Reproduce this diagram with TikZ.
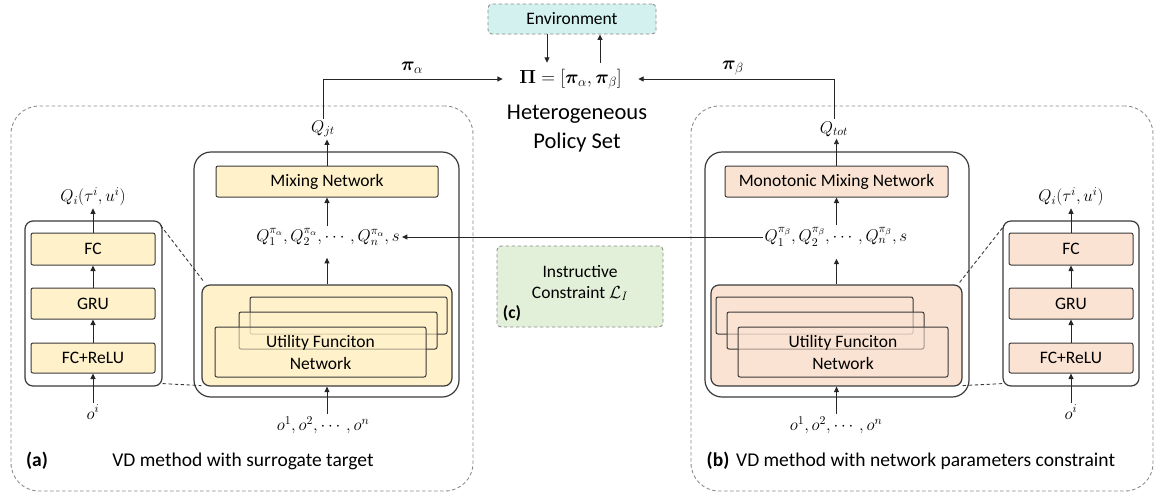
\RequirePackage{fix-cm}
\documentclass[tikz,border=0pt]{standalone}
\usepackage{amsmath}
\usepackage{bm}
\usepackage[no-math]{fontspec}
\setmainfont{Carlito}
\usetikzlibrary{arrows.meta}

\definecolor{boxyellow}{HTML}{FFF1C9}
\definecolor{boxpeach}{HTML}{FBE3D3}
\definecolor{boxgreen}{HTML}{E2F0D9}
\definecolor{boxcyan}{HTML}{D3F1EF}
\definecolor{edge}{HTML}{3A3A3A}
\definecolor{dashgray}{HTML}{8C8C8C}

\tikzset{
  arr/.style={-{Triangle[length=5.5pt,width=5pt]}, line width=0.9pt, draw=black!85},
  panel/.style={draw=dashgray, line width=0.9pt, dash pattern=on 3.5pt off 2.5pt,
    rounded corners=28pt, inner sep=0pt},
  container/.style={draw=edge, line width=1.2pt, rounded corners=17pt, inner sep=0pt},
  layer/.style={draw=edge, line width=1pt, rounded corners=2pt, inner sep=0pt,
    font=\fontsize{17.5}{20}\selectfont},
  holder/.style={draw=edge, line width=1.2pt, rounded corners=8pt, inner sep=0pt},
  stackbox/.style={draw=edge, line width=1pt, rounded corners=2pt, inner sep=0pt,
    fill opacity=0.55, text opacity=1, align=center,
    font=\fontsize{17.5}{22}\selectfont},
  note/.style={draw=dashgray, line width=0.9pt, dash pattern=on 3.5pt off 2.5pt,
    rounded corners=4pt, inner sep=0pt},
  mathlbl/.style={inner sep=2pt, font=\fontsize{17}{20}\selectfont},
  caption/.style={inner sep=0pt, font=\fontsize{19.5}{23}\selectfont},
  zoomline/.style={draw=edge, line width=0.9pt, dash pattern=on 3.5pt off 2.5pt},
}

\begin{document}
\begin{tikzpicture}[x=1pt,y=-1pt]
\useasboundingbox (0,0) rectangle (1156,496);

% ---------- top: environment and policy set ----------
\node[note, fill=boxcyan, minimum width=168pt, minimum height=30pt,
  font=\fontsize{17.5}{20}\selectfont] (env) at (572,19) {Environment};
\node[inner sep=0pt, minimum width=135pt, minimum height=32pt,
  font=\fontsize{19}{22}\selectfont] (pi) at (570.5,79)
  {$\bm{\Pi}=[\bm{\pi}_\alpha,\bm{\pi}_\beta]$};
\node[inner sep=0pt, font=\fontsize{19}{22}\selectfont] (piA) at (412,68) {$\bm{\pi}_\alpha$};
\node[inner sep=0pt, font=\fontsize{19}{22}\selectfont] (piB) at (733,68) {$\bm{\pi}_\beta$};
\node[inner sep=0pt, align=center, font=\fontsize{22.5}{29}\selectfont] (het) at (577,128.5)
  {Heterogeneous\\Policy Set};

\coordinate (xdn) at (547,0);
\coordinate (xup) at (600,0);
\draw[arr] (env.south -| xdn) -- (pi.north -| xdn);
\draw[arr] (pi.north -| xup) -- (env.south -| xup);

% ---------- panel (a) ----------
\node[panel, minimum width=462pt, minimum height=385pt] (panelA) at (242,298.5) {};
\node[container, minimum width=265pt, minimum height=245pt] (contA) at (326.5,274.5) {};
\node[layer, fill=boxyellow, minimum width=222pt, minimum height=31pt] (mixA) at (327,181.5) {Mixing Network};
\node[mathlbl] (qjt) at (323,129) {$Q_{jt}$};
\node[mathlbl] (qA) at (328,237) {$Q_1^{\pi_\alpha},Q_2^{\pi_\alpha},\cdots,Q_n^{\pi_\alpha},s$};
\node[holder, fill=boxyellow, minimum width=250pt, minimum height=101pt] (utilA) at (327,335.5) {};
\node[stackbox, fill=boxyellow, minimum width=197pt, minimum height=37pt] (sA3) at (348.5,315.5) {};
\node[stackbox, fill=boxyellow, minimum width=198pt, minimum height=37pt] (sA2) at (338,330.5) {};
\node[stackbox, fill=boxyellow, minimum width=211pt, minimum height=50pt] (sA1) at (320.5,352) {Utility Funciton\\Network};
\node[mathlbl] (oA) at (323,425) {$o^1,o^2,\cdots,o^n$};

\node[holder, fill=white, minimum width=137pt, minimum height=165pt] (sbA) at (93.5,303.5) {};
\node[layer, fill=boxyellow, minimum width=124pt, minimum height=32pt] (fcA) at (93,249) {FC};
\node[layer, fill=boxyellow, minimum width=124pt, minimum height=31pt] (gruA) at (93,303.5) {GRU};
\node[layer, fill=boxyellow, minimum width=124pt, minimum height=30pt] (reluA) at (93,358) {FC+ReLU};
\node[mathlbl] (qiA) at (93,197) {$Q_i(\tau^i,u^i)$};
\node[mathlbl] (oiA) at (93,412) {$o^i$};

\node[caption, font=\fontsize{19.5}{23}\selectfont\bfseries] (tagA) at (37,461) {(a)};
\node[caption] (capA) at (243,461) {VD method with surrogate target};

% ---------- panel (b) ----------
\node[panel, minimum width=462pt, minimum height=385pt] (panelB) at (922,298.5) {};
\node[container, minimum width=264pt, minimum height=245pt] (contB) at (837,274.5) {};
\node[layer, fill=boxpeach, minimum width=223pt, minimum height=31pt] (monoB) at (836.5,181.5) {Monotonic Mixing Network};
\node[mathlbl] (qtot) at (834,129) {$Q_{tot}$};
\node[mathlbl] (qB) at (836,237) {$Q_1^{\pi_\beta},Q_2^{\pi_\beta},\cdots,Q_n^{\pi_\beta},s$};
\node[holder, fill=boxpeach, minimum width=251pt, minimum height=101pt] (utilB) at (836.5,335.5) {};
\node[stackbox, fill=boxpeach, minimum width=197pt, minimum height=37pt] (sB3) at (814.5,315.5) {};
\node[stackbox, fill=boxpeach, minimum width=197pt, minimum height=37pt] (sB2) at (825.5,330.5) {};
\node[stackbox, fill=boxpeach, minimum width=210pt, minimum height=50pt] (sB1) at (843,352) {Utility Funciton\\Network};
\node[mathlbl] (oB) at (836,425) {$o^1,o^2,\cdots,o^n$};

\node[holder, fill=white, minimum width=136pt, minimum height=165pt] (sbB) at (1071,303.5) {};
\node[layer, fill=boxpeach, minimum width=124pt, minimum height=32pt] (fcB) at (1071,249) {FC};
\node[layer, fill=boxpeach, minimum width=124pt, minimum height=31pt] (gruB) at (1071,303.5) {GRU};
\node[layer, fill=boxpeach, minimum width=124pt, minimum height=30pt] (reluB) at (1071,358) {FC+ReLU};
\node[mathlbl] (qiB) at (1071,197) {$Q_i(\tau^i,u^i)$};
\node[mathlbl] (oiB) at (1071,412) {$o^i$};

\node[caption, font=\fontsize{19.5}{23}\selectfont\bfseries] (tagB) at (718,461) {(b)};
\node[caption, anchor=west] (capB) at (736,461) {VD method with network parameters constraint};

% ---------- constraint between the panels ----------
\node[note, fill=boxgreen, minimum width=166pt, minimum height=81pt] (cons) at (580,286.5) {};
\node[inner sep=0pt, align=center, font=\fontsize{17.5}{21}\selectfont] (consText) at (580,283)
  {Instructive\\Constraint $\mathcal{L}_I$};
\node[inner sep=0pt, font=\fontsize{17.5}{20}\selectfont\bfseries] (tagC) at (512,313) {(c)};

% ---------- connectors ----------
\draw[arr] (qjt.north) |- (pi.west);
\draw[arr] (qtot.north) |- (pi.east);

\draw[arr] (mixA.north) -- (mixA.north |- qjt.south);
\draw[arr] (qA.north -| mixA.south) -- (mixA.south);
\draw[arr, shorten >=10pt] (utilA.north) -- (utilA.north |- qA.south);
\draw[arr] (oA.north -| utilA.south) -- (utilA.south);

\draw[arr] (monoB.north) -- (monoB.north |- qtot.south);
\draw[arr] (qB.north -| monoB.south) -- (monoB.south);
\draw[arr, shorten >=10pt] (utilB.north) -- (utilB.north |- qB.south);
\draw[arr] (oB.north -| utilB.south) -- (utilB.south);

\draw[arr] (qB.west) -- (qA.east);

\draw[arr] (oiA.north) -- (reluA.south);
\draw[arr] (reluA.north) -- (gruA.south);
\draw[arr] (gruA.north) -- (fcA.south);
\draw[arr] (fcA.north) -- (qiA.south);

\draw[arr] (oiB.north) -- (reluB.south);
\draw[arr] (reluB.north) -- (gruB.south);
\draw[arr] (gruB.north) -- (fcB.south);
\draw[arr] (fcB.north) -- (qiB.south);

\draw[zoomline] ([shift={(-2,5)}]sbA.north east) -- ([shift={(3,-2)}]utilA.north west);
\draw[zoomline] ([shift={(0,-3)}]sbA.south east) -- ([shift={(0,-1)}]utilA.south west);
\draw[zoomline] ([shift={(-3,-2)}]utilB.north east) -- ([shift={(2,5)}]sbB.north west);
\draw[zoomline] ([shift={(0,-1)}]utilB.south east) -- ([shift={(0,-3)}]sbB.south west);
\end{tikzpicture}
\end{document}
